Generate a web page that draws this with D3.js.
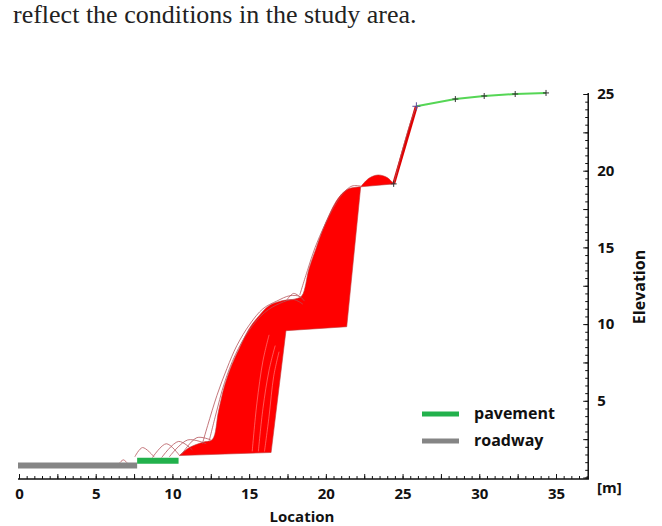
<!DOCTYPE html>
<html>
<head>
<meta charset="utf-8">
<script src="https://d3js.org/d3.v7.min.js"></script>
<style>
  body { margin: 0; background: #fff; }
  .lbl { font-family: "Open Sans", Lato, sans-serif; font-weight: 700; fill: #111; }
</style>
</head>
<body>
<div id="chart"></div>
<script>
// ground profile under / right of the trajectory bundle (x = location, y = elevation, m)
var profileX = [10.45, 16.43, 17.40, 21.36, 22.27, 24.42, 25.90, 28.44, 30.32, 32.34, 34.35];
var profileY = [1.43, 1.63, 9.57, 9.83, 18.95, 19.14, 24.20, 24.67, 24.87, 25.00, 25.07];

// roadway and pavement strips
var roadwayX = [0, 7.7], roadwayY = 0.78;
var pavementX = [7.7, 10.4], pavementY = 1.1;

// upper-left envelope of the red trajectory bundle
var bundleTopX = [10.45, 11.1, 12.0, 12.6, 13.0, 13.4, 13.85, 14.35, 15.0, 15.65, 16.3, 17.14, 18.05, 18.44, 18.9, 19.35, 19.74, 20.19, 20.65, 21.04, 21.49, 22.27];
var bundleTopY = [1.43, 1.95, 2.3, 2.47, 4.3, 5.99, 7.29, 8.4, 9.7, 10.55, 11.2, 11.52, 11.65, 11.85, 13.6, 14.9, 16.0, 17.06, 17.97, 18.49, 18.82, 18.95];

// small bump of trajectories on the top bench
var humpX = [22.27, 22.8, 23.4, 24.0, 24.42];
var humpY = [18.95, 19.5, 19.72, 19.55, 19.14];

// single trajectories visible outside the bundle
var arcs = [
  [[6.56, 0.95], [6.8, 1.15], [7.05, 0.95]],
  [[7.55, 1.35], [8.05, 1.95], [8.8, 1.35]],
  [[8.7, 1.3], [9.6, 2.2], [10.45, 1.45]],
  [[9.3, 1.3], [10.4, 2.35], [11.3, 1.8]],
  [[9.8, 1.35], [11.0, 2.45], [12.2, 2.2]],
  [[10.6, 1.5], [11.6, 2.6], [12.5, 2.45]],
  [[11.95, 2.2], [12.3, 3.4], [12.9, 5.35], [13.55, 7.1], [14.2, 8.6], [15.05, 10.0], [15.9, 11.0], [16.8, 11.5], [17.65, 11.85], [18.3, 11.8], [18.6, 11.5]],
  [[12.4, 2.4], [12.8, 4.0], [13.4, 6.2], [14.1, 8.0], [15.0, 9.6], [16.0, 10.75], [17.0, 11.35], [17.9, 11.6], [18.5, 11.3]],
  [[17.4, 11.5], [17.9, 12.0], [18.4, 11.7]],
  [[18.3, 11.9], [18.8, 13.5], [19.3, 15.0], [19.9, 16.4], [20.5, 17.6], [21.1, 18.5], [21.7, 19.0], [22.27, 19.0]],
  [[24.42, 19.14], [24.95, 21.2], [25.5, 23.1], [25.9, 24.2]]
];

// paler streaks inside the bundle near the steep face
var streaks = [
  [[15.6, 1.7], [15.9, 4.5], [16.3, 7.0], [16.7, 8.6]],
  [[16.0, 1.7], [16.3, 4.0], [16.6, 6.6], [16.95, 8.2]],
  [[15.2, 1.7], [15.5, 4.8], [15.9, 7.6], [16.3, 9.3]]
];

var xTickValues = [0, 5, 10, 15, 20, 25, 30, 35];
var yTickValues = [5, 10, 15, 20, 25];
var legendNames = ["pavement", "roadway"];
var legendColors = ["#22b14c", "#858585"];

var width = 662, height = 526;

var x = d3.scaleLinear().domain([0, 35]).range([19, 556]);
var y = d3.scaleLinear().domain([0, 25]).range([477.5, 94]);
var xEnd = 37.1, yBottom = -0.1;

var svg = d3.select("#chart").append("svg")
  .attr("width", width)
  .attr("height", height)
  .style("display", "block");

svg.append("rect").attr("width", width).attr("height", height).attr("fill", "#fff");

// sentence cut from the page above the figure
svg.append("text")
  .attr("x", 13).attr("y", 23)
  .attr("font-family", "'Liberation Serif', 'DejaVu Serif', serif")
  .attr("font-size", 26)
  .attr("fill", "#222")
  .text("reflect the conditions in the study area.");

var pts = function(xs, ys) { return xs.map(function(v, i) { return [v, ys[i]]; }); };
var line = d3.line().x(function(d) { return x(d[0]); }).y(function(d) { return y(d[1]); });
var smooth = d3.line().x(function(d) { return x(d[0]); }).y(function(d) { return y(d[1]); }).curve(d3.curveCatmullRom);

var profile = pts(profileX, profileY);

// red bundle: smooth upper edge, then back down along the ground
var topPath = smooth(pts(bundleTopX, bundleTopY));
var back = profile.slice(0, 5).reverse();
svg.append("path")
  .attr("d", topPath + line(back).replace("M", "L") + "Z")
  .attr("fill", "#ff0000")
  .attr("stroke", "#c03838")
  .attr("stroke-width", 0.6);

svg.append("path")
  .attr("d", smooth(pts(humpX, humpY)) + "Z")
  .attr("fill", "#ff0000")
  .attr("stroke", "#c03838")
  .attr("stroke-width", 0.6);

svg.selectAll(".streak").data(streaks).enter().append("path")
  .attr("d", smooth)
  .attr("fill", "none")
  .attr("stroke", "#ffb4b4")
  .attr("stroke-width", 0.6)
  .attr("opacity", 0.8);

// steep face to the top bench
svg.append("path")
  .attr("d", line(profile.slice(5, 7)))
  .attr("stroke", "#e00000")
  .attr("stroke-width", 3);

svg.selectAll(".arc").data(arcs).enter().append("path")
  .attr("d", smooth)
  .attr("fill", "none")
  .attr("stroke", "#b5545a")
  .attr("stroke-width", 0.8);

// upper pavement line
svg.append("path")
  .attr("d", line(profile.slice(6)))
  .attr("fill", "none")
  .attr("stroke", "#55d655")
  .attr("stroke-width", 2);

// vertex crosses
svg.selectAll(".vx").data(profile.slice(5)).enter().append("path")
  .attr("d", function(d, i) {
    var cx = x(d[0]), cy = y(d[1]), r = i === 1 ? 4 : 3;
    return "M" + (cx - r) + "," + cy + "H" + (cx + r) + "M" + cx + "," + (cy - r) + "V" + (cy + r);
  })
  .attr("stroke", function(d, i) { return i === 1 ? "#5a4a9a" : "#333"; })
  .attr("stroke-width", 1);

// roadway and lower pavement strips
svg.append("line")
  .attr("x1", x(roadwayX[0]) - 1).attr("x2", x(roadwayX[1]))
  .attr("y1", y(roadwayY)).attr("y2", y(roadwayY))
  .attr("stroke", "#858585").attr("stroke-width", 6);
svg.append("line")
  .attr("x1", x(pavementX[0])).attr("x2", x(pavementX[1]))
  .attr("y1", y(pavementY)).attr("y2", y(pavementY))
  .attr("stroke", "#22b14c").attr("stroke-width", 6);

// axes: minor, mid and labelled ticks in separate groups
var xMinor = d3.range(0, 37.01, 0.5);
var yMinor = d3.range(0, 25.01, 0.5);
var xb = "translate(0," + y(yBottom) + ")";
var yr = "translate(" + x(xEnd) + ",0)";

svg.append("g").attr("transform", xb)
  .call(d3.axisBottom(x).tickValues(xMinor).tickSize(-3).tickFormat(""));
svg.append("g").attr("transform", xb)
  .call(d3.axisBottom(x).tickValues(d3.range(0, 37.01, 2.5)).tickSize(-5).tickFormat(""));
var gxl = svg.append("g").attr("transform", xb)
  .call(d3.axisBottom(x).tickValues(xTickValues).tickSize(0).tickPadding(9));
gxl.selectAll("text").attr("class", "lbl").attr("font-size", 15);

svg.append("g").attr("transform", yr)
  .call(d3.axisRight(y).tickValues(yMinor).tickSize(-3).tickFormat(""));
svg.append("g").attr("transform", yr)
  .call(d3.axisRight(y).tickValues(d3.range(0, 25.01, 2.5)).tickSize(-5).tickFormat(""));
var gyl = svg.append("g").attr("transform", yr)
  .call(d3.axisRight(y).tickValues(yTickValues).tickSize(0).tickPadding(9));
gyl.selectAll("text").attr("class", "lbl").attr("font-size", 15);

svg.selectAll(".domain").remove();
svg.selectAll(".tick line").attr("stroke", "#111");

svg.append("path")
  .attr("d", "M" + (x(0) - 1) + "," + y(yBottom) + "H" + x(xEnd) + "V" + (y(25) - 1))
  .attr("fill", "none").attr("stroke", "#111").attr("stroke-width", 1.5);

svg.append("text").attr("class", "lbl").attr("font-size", 15)
  .attr("x", 597).attr("y", 493).text("[m]");
svg.append("text").attr("class", "lbl").attr("font-size", 15)
  .attr("x", 302).attr("y", 522).attr("text-anchor", "middle").text("Location");
svg.append("text").attr("class", "lbl").attr("font-size", 16)
  .attr("transform", "translate(645,287) rotate(-90)")
  .attr("text-anchor", "middle").text("Elevation");

// legend
var lg = svg.selectAll(".lg").data(legendNames).enter().append("g")
  .attr("transform", function(d, i) { return "translate(422," + (414 + i * 27) + ")"; });
lg.append("line").attr("x1", 0).attr("x2", 37)
  .attr("stroke", function(d, i) { return legendColors[i]; })
  .attr("stroke-width", 5);
lg.append("text").attr("class", "lbl").attr("font-size", 16)
  .attr("x", 52).attr("y", 5).text(function(d) { return d; });
</script>
</body>
</html>
